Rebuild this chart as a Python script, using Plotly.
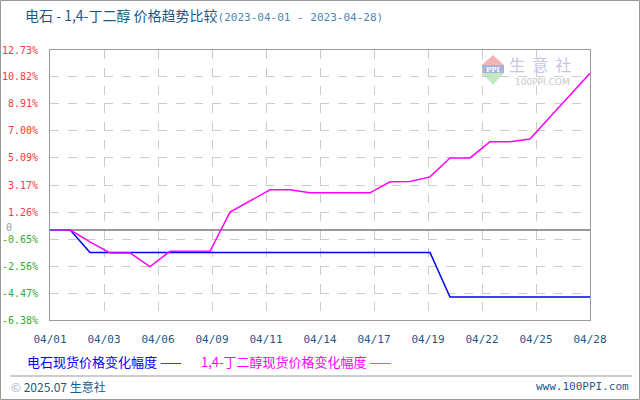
import plotly.graph_objects as go

# Daily price change (%) relative to 2023-04-01
dates = ["04/%02d" % d for d in range(1, 29)]
calcium_carbide = [0, 0, -1.6, -1.6, -1.6, -1.6, -1.6, -1.6, -1.6, -1.6,
                   -1.6, -1.6, -1.6, -1.6, -1.6, -1.6, -1.6, -1.6, -1.6, -1.6,
                   -4.76, -4.76, -4.76, -4.76, -4.76, -4.76, -4.76, -4.76]
bdo = [0, 0, -0.85, -1.63, -1.63, -2.6, -1.52, -1.52, -1.52, 1.26,
       2.05, 2.83, 2.83, 2.62, 2.62, 2.62, 2.62, 3.40, 3.42, 3.75,
       5.09, 5.09, 6.24, 6.24, 6.43, 7.98, 9.53, 11.08]

y_ticks = [12.73, 10.82, 8.91, 7.00, 5.09, 3.17, 1.26, 0, -0.65, -2.56, -4.47, -6.38]
x_tick_labels = ["04/01", "04/03", "04/06", "04/09", "04/11", "04/14",
                 "04/17", "04/19", "04/22", "04/25", "04/28"]

series_names = ["电石现货价格变化幅度", "1,4-丁二醇现货价格变化幅度"]
series_colors = ["#0000ff", "#ff00ff"]

W, H = 640, 400
L, R, T, B = 50, 50, 50, 80
PW, PH = W - L - R, H - T - B


def px(x):
    return (x - L) / PW


def py(y):
    return (H - B - y) / PH


xs = list(range(len(dates)))
n_last = len(dates) - 1
tick_pos = [i * n_last / (len(x_tick_labels) - 1) for i in range(len(x_tick_labels))]


def ytick_text(v):
    # the zero label is drawn separately at the far left
    if v == 0:
        return ""
    color = "#f03c3c" if v > 0 else "#33aa33"
    return '<span style="color:%s">%.2f%%</span>' % (color, v)


fig = go.Figure()
for vals, name, color in zip([calcium_carbide, bdo], series_names, series_colors):
    fig.add_trace(go.Scatter(x=xs, y=vals, mode="lines", name=name,
                             line=dict(color=color, width=1.5), showlegend=False))

mono = "DejaVu Sans Mono"
cjk = "Noto Sans CJK SC"

title_text = ('<span style="color:#1a5a8a">电石 - 1,4-丁二醇 价格趋势比较</span>'
              '<span style="font-family:\'DejaVu Sans Mono\';font-size:11px;color:#4a86b4">'
              '(2023-04-01 - 2023-04-28)</span>')

fig.update_layout(
    width=W, height=H,
    margin=dict(l=L, r=R, t=T, b=B, autoexpand=False),
    paper_bgcolor="white", plot_bgcolor="white",
    title=dict(text=title_text, x=25 / W, xanchor="left", xref="container",
               y=1 - 16 / H, yanchor="middle", yref="container",
               font=dict(family=cjk, size=14, color="#1a5a8a")),
    xaxis=dict(range=[0, n_last], tickvals=tick_pos, ticktext=x_tick_labels,
               showgrid=True, gridcolor="#cccccc", griddash="dash", gridwidth=1,
               showline=True, linecolor="#999999", linewidth=1, mirror=True,
               zeroline=False, ticks="", ticklabelstandoff=9, automargin=False,
               tickfont=dict(family=mono, size=11, color="#1a5a8a")),
    yaxis=dict(range=[y_ticks[-1], y_ticks[0]], tickvals=y_ticks,
               ticktext=[ytick_text(v) for v in y_ticks],
               showgrid=True, gridcolor="#cccccc", griddash="dash", gridwidth=1,
               showline=True, linecolor="#999999", linewidth=1, mirror=True,
               zeroline=True, zerolinecolor="#999999", zerolinewidth=1.5,
               ticks="", ticklabelstandoff=9, automargin=False,
               tickfont=dict(family=mono, size=10)),
    font=dict(family=cjk),
)


def label(x, y, text, size, color, family=cjk, anchor="left"):
    return dict(x=px(x), y=py(y), xref="paper", yref="paper", xanchor=anchor,
                yanchor="middle", showarrow=False, text=text,
                font=dict(family=family, size=size, color=color))


annotations = [
    # zero label of the value axis
    label(4, 227, "0", 10, "#999999", family=mono),
    # legend
    label(25, 361, series_names[0] + " ——", 13, series_colors[0]),
    label(199, 361, series_names[1] + " ——", 13, series_colors[1]),
    # footer
    label(9, 386, '<span style="color:#9ab4c8">©</span> 2025.07 生意社', 12, "#1a5a8a"),
    label(631, 386, "www.100PPI.com", 11, "#1a5a8a", family=mono, anchor="right"),
    # watermark logo text
    label(540, 64, "生&nbsp;&nbsp;意&nbsp;&nbsp;社", 16, "#c4c8e0", anchor="center"),
    label(542, 82, "100PPI.COM", 9, "#c8c8c8", family="DejaVu Sans", anchor="center"),
    label(493, 69, "<b>PPI</b>", 7, "#ffffff", family="DejaVu Serif", anchor="center"),
]

shapes = [
    # outer frame
    dict(type="rect", xref="paper", yref="paper", x0=px(0.5), x1=px(639.5), y0=py(399.5), y1=py(0.5),
         line=dict(color="#999999", width=1), layer="below"),
    # footer separator
    dict(type="line", xref="paper", yref="paper", x0=px(10), x1=px(632), y0=py(376), y1=py(376),
         line=dict(color="#999999", width=1)),
    # watermark logo: roof, band, base
    dict(type="path", xref="paper", yref="paper",
         path="M %f %f L %f %f L %f %f Z" % (px(482), py(65), px(493), py(55), px(504), py(65)),
         fillcolor="#f4b4b4", line=dict(width=0), layer="below"),
    dict(type="rect", xref="paper", yref="paper", x0=px(482), x1=px(504), y0=py(73), y1=py(65),
         fillcolor="#a8b2d8", line=dict(width=0), layer="below"),
    dict(type="path", xref="paper", yref="paper",
         path="M %f %f L %f %f L %f %f Z" % (px(482), py(73), px(504), py(73), px(493), py(85)),
         fillcolor="#c4e8c4", line=dict(width=0), layer="below"),
]

fig.update_layout(annotations=annotations, shapes=shapes)
fig.write_html("out.html")
